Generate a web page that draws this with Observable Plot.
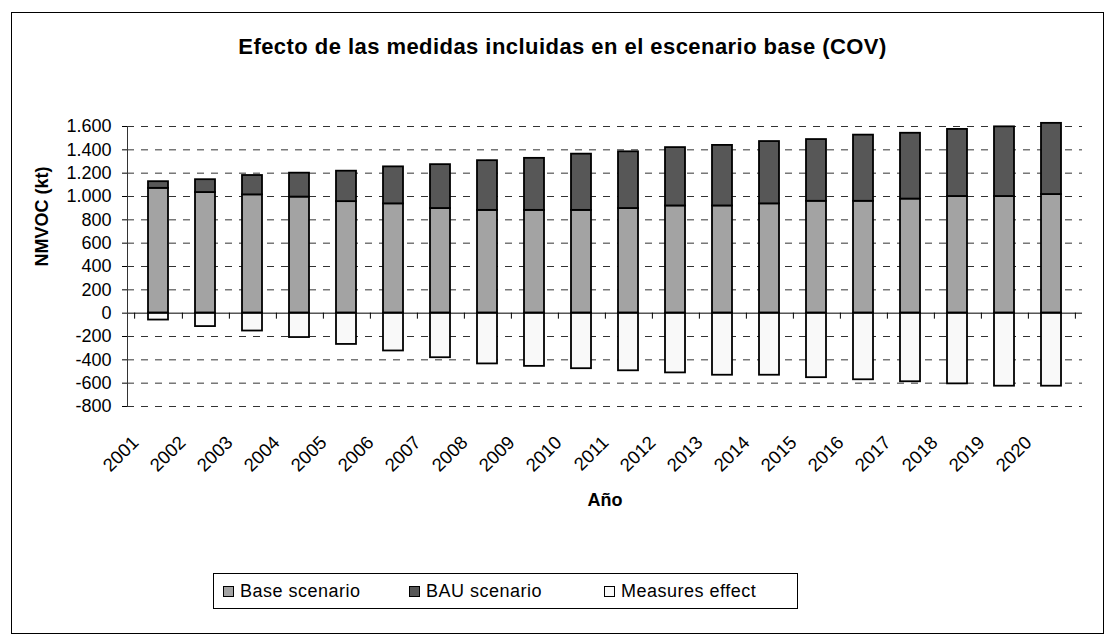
<!DOCTYPE html>
<html><head><meta charset="utf-8">
<script src="https://cdn.jsdelivr.net/npm/d3@7"></script>
<script src="https://cdn.jsdelivr.net/npm/@observablehq/plot@0.6"></script>
<style>
body{margin:0;background:#fff;}
#wrap{position:relative;width:1115px;height:644px;font-family:"Liberation Sans",Arial,sans-serif;color:#000;overflow:hidden;}
#frame{position:absolute;left:11px;top:12px;width:1093px;height:622px;border:1px solid #000;box-sizing:border-box;}
#title{position:absolute;left:5px;width:1115px;top:33px;text-align:center;font-weight:bold;font-size:22px;letter-spacing:0.45px;line-height:28px;white-space:nowrap;}
#chart{position:absolute;left:0;top:0;}
#legend{position:absolute;left:213px;top:573px;width:585px;height:36px;border:1px solid #000;box-sizing:border-box;font-size:18px;letter-spacing:0.5px;}
.item{position:absolute;top:0;height:34px;line-height:34px;white-space:nowrap;}
.sw{display:inline-block;width:9px;height:9px;border:1px solid #000;margin-right:6px;vertical-align:middle;position:relative;top:-1px;}
</style></head>
<body>
<div id="wrap">
  <div id="frame"></div>
  <div id="title"></div>
  <div id="chart"></div>
  <div id="legend"></div>
</div>
<script>
// ---- data ----
const years = ["2001","2002","2003","2004","2005","2006","2007","2008","2009","2010",
               "2011","2012","2013","2014","2015","2016","2017","2018","2019","2020"];
const baseScenario = [1070,1034,1014,995,956,937,897,881,881,881,897,919,919,937,959,959,978,1000,1000,1017];
const bauScenario  = [1127,1144,1180,1200,1217,1254,1273,1307,1327,1363,1383,1419,1438,1471,1488,1526,1542,1575,1597,1627];
const measuresEffect = [-59,-115,-153,-209,-268,-324,-382,-435,-456,-476,-494,-512,-532,-532,-553,-571,-588,-606,-626,-626];
const yTicks = [-800,-600,-400,-200,0,200,400,600,800,1000,1200,1400,1600];
const seriesNames = ["Base scenario","BAU scenario","Measures effect"];
const seriesColors = ["#A3A3A3","#575757","#F9F9F9"];
const titleText = "Efecto de las medidas incluidas en el escenario base (COV)";
const xTitle = "Año";
const yTitle = "NMVOC (kt)";

// ---- layout ----
const W = 1115, H = 520, ML = 127, MR = 33, MT = 126, MB = H - 406;
const step = (W - ML - MR) / years.length;
const fmt = d3.formatLocale({decimal: ",", thousands: ".", grouping: [3], currency: ["", ""], minus: "-"}).format(",d");

const rows = years.map((y, i) => ({year: y, base: baseScenario[i], bau: bauScenario[i], meas: measuresEffect[i]}));

const chart = Plot.plot({
  width: W, height: H,
  marginLeft: ML, marginRight: MR, marginTop: MT, marginBottom: MB,
  style: {fontFamily: "Liberation Sans, Arial, sans-serif", fontSize: "18px", color: "#000", background: "transparent", overflow: "visible"},
  x: {type: "band", domain: years, paddingInner: 0.58, paddingOuter: 0.29, axis: null},
  y: {domain: [-800, 1600], axis: null},
  marks: [
    Plot.ruleY(yTicks.filter(d => d !== 0), {stroke: "#333", strokeDasharray: "7,7", strokeWidth: 1}),
    Plot.barY(rows, {x: "year", y1: 0, y2: "base", fill: seriesColors[0], stroke: "#000", strokeWidth: 1.8}),
    Plot.barY(rows, {x: "year", y1: "base", y2: "bau", fill: seriesColors[1], stroke: "#000", strokeWidth: 1.8}),
    Plot.barY(rows, {x: "year", y1: 0, y2: "meas", fill: seriesColors[2], stroke: "#000", strokeWidth: 1.8}),
    Plot.ruleY([0], {stroke: "#000", strokeWidth: 1}),
    Plot.ruleX(years, {x: d => d, y1: 0, y2: 0, insetBottom: -6, dx: step / 2, stroke: "#000"}),
    Plot.ruleX([years[0]], {x: d => d, y1: 0, y2: 0, insetBottom: -6, dx: -step / 2, stroke: "#000"}),
    Plot.frame({anchor: "left", stroke: "#333"}),
    Plot.axisY({ticks: yTicks, tickSize: 5, tickPadding: 11, tickFormat: fmt, label: null, fontSize: 18}),
    Plot.axisX({tickRotate: -45, tickSize: 0, tickPadding: 33, dx: -23, label: null, fontSize: 18.5}),
    Plot.text([xTitle], {frameAnchor: "bottom", dy: 99, fontWeight: "bold", fontSize: 18}),
    Plot.text([yTitle], {frameAnchor: "left", dx: -85, rotate: -90, fontWeight: "bold", fontSize: 18})
  ]
});
document.getElementById("chart").appendChild(chart);
document.getElementById("title").textContent = titleText;

// legend
const legend = document.getElementById("legend");
const lefts = [9, 195, 390];
seriesNames.forEach((n, i) => {
  const it = document.createElement("div");
  it.className = "item";
  it.style.left = lefts[i] + "px";
  const sw = document.createElement("span");
  sw.className = "sw";
  sw.style.background = seriesColors[i];
  it.appendChild(sw);
  it.appendChild(document.createTextNode(n));
  legend.appendChild(it);
});
</script>
</body></html>
